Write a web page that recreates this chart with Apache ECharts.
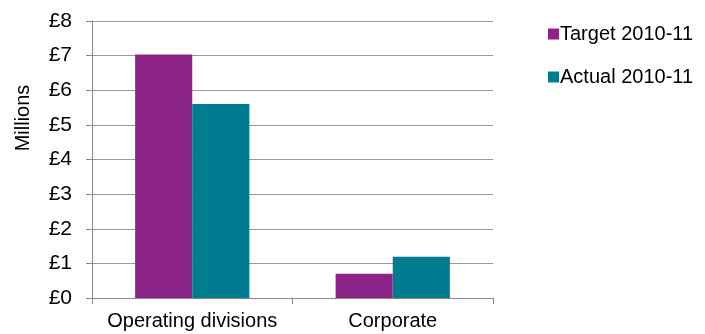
<!DOCTYPE html>
<html>
<head>
<meta charset="utf-8">
<script src="https://cdn.jsdelivr.net/npm/echarts@6/dist/echarts.min.js"></script>
<style>
  html, body { margin: 0; padding: 0; background: #fff; }
  #chart { width: 705px; height: 334px; }
</style>
</head>
<body>
<div id="chart"></div>
<script>
// data
const categories = ["Operating divisions", "Corporate"];
const targetValues = [7.03, 0.70];
const actualValues = [5.60, 1.19];
const yTicks = ["£0", "£1", "£2", "£3", "£4", "£5", "£6", "£7", "£8"];

const myChart = echarts.init(document.getElementById("chart"));
const font = "Liberation Sans, Arial, sans-serif";

let option = {
  animation: false,
  textStyle: { fontFamily: font },
  legend: {
    orient: "vertical",
    left: 543,
    top: 19,
    itemWidth: 11,
    itemHeight: 11,
    itemGap: 23,
    icon: "rect",
    textStyle: { fontSize: 20, color: "#000", fontFamily: font, padding: [0, 0, 0, -4] },
    data: ["Target 2010-11", "Actual 2010-11"]
  },
  // y axis title sits above the axis middle in the reference
  graphic: [{
    type: "text",
    x: 23,
    y: 118,
    rotation: Math.PI / 2,
    style: {
      text: "Millions",
      fontSize: 20,
      fontFamily: font,
      fill: "#000",
      align: "center",
      verticalAlign: "middle"
    }
  }],
  grid: {
    left: 92,
    right: 212,
    top: 21,
    bottom: 36
  },
  xAxis: {
    type: "category",
    data: categories,
    axisLine: { show: true, lineStyle: { color: "#888", width: 1 } },
    axisTick: { show: true, length: 6, lineStyle: { color: "#888" } },
    axisLabel: { interval: 0, fontSize: 20, color: "#000", margin: 13, fontFamily: font }
  },
  yAxis: {
    type: "value",
    min: 0,
    max: 8,
    interval: 1,
    axisLine: { show: true, lineStyle: { color: "#888" } },
    axisTick: { show: true, length: 6, lineStyle: { color: "#888" } },
    axisLabel: {
      fontSize: 21,
      color: "#000",
      margin: 20,
      fontFamily: font,
      formatter: (v) => yTicks[v]
    },
    splitLine: { show: true, lineStyle: { color: "#999", width: 1 } }
  },
  series: [
    {
      name: "Target 2010-11",
      type: "bar",
      data: targetValues,
      barGap: "0%",
      barCategoryGap: "43%",
      itemStyle: { color: "#8C2488" }
    },
    {
      name: "Actual 2010-11",
      type: "bar",
      data: actualValues,
      itemStyle: { color: "#007C91" }
    }
  ]
};

option && myChart.setOption(option);
</script>
</body>
</html>
